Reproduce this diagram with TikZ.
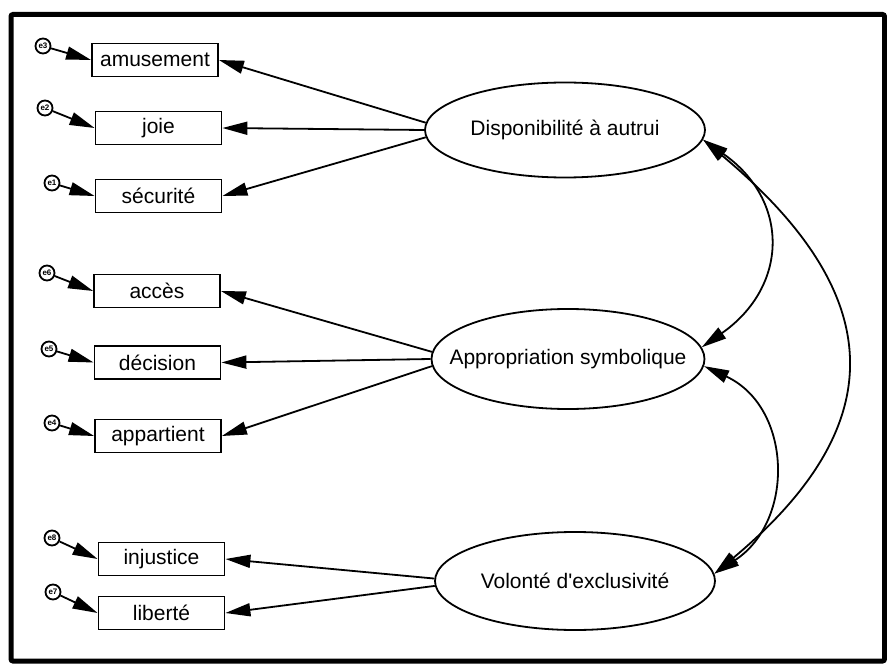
\documentclass[tikz,border=0pt]{standalone}
\usepackage{fontspec}
\setmainfont{Liberation Sans}
\usetikzlibrary{shapes.geometric,arrows.meta}
\tikzstyle{obs} = [rectangle, draw=black, line width=1.8pt, minimum width=126pt, minimum height=33pt, inner sep=0pt, font=\fontsize{21}{24}\selectfont]
\tikzstyle{lat} = [ellipse, draw=black, line width=1.8pt, inner sep=0pt, font=\fontsize{21}{24}\selectfont]
\tikzstyle{err} = [circle, draw=black, line width=1.8pt, minimum size=15pt, inner sep=0pt, font=\fontsize{8}{8}\selectfont\bfseries]
\tikzstyle{path} = [line width=1.8pt, ->]

\begin{document}
\begin{tikzpicture}[x=1pt,y=-1pt]
    \tikzset{>={Triangle[length=25pt,width=13pt]}}
    \useasboundingbox (0,0) rectangle (887,666);
    \draw[line width=5pt, rounded corners=2pt] (11,14.5) rectangle (884.5,661);

    % latent variables
    \node[lat, minimum width=280pt, minimum height=95pt] (disp) at (565,130) {\makebox[0pt]{Disponibilité à autrui}};
    \node[lat, minimum width=273pt, minimum height=100pt] (appr) at (568,359) {\makebox[0pt]{Appropriation symbolique}};
    \node[lat, minimum width=280pt, minimum height=98pt] (volo) at (575,581) {\makebox[0pt]{Volonté d\textquotesingle exclusivité}};

    % observed variables
    \node[obs] (amus) at (155,60) {amusement};
    \node[obs] (joie) at (158.5,128) {joie};
    \node[obs] (secu) at (158.5,196) {sécurité};
    \node[obs] (acce) at (157,291) {accès};
    \node[obs] (deci) at (157.5,362.5) {décision};
    \node[obs] (appa) at (158,436) {appartient};
    \node[obs] (inju) at (161.5,559) {injustice};
    \node[obs] (libe) at (161.5,613) {liberté};

    % errors
    \node[err] (e3) at (43,46) {e3};
    \node[err] (e2) at (45,108) {e2};
    \node[err] (e1) at (52,183) {e1};
    \node[err] (e6) at (47,273) {e6};
    \node[err] (e5) at (49,349) {e5};
    \node[err] (e4) at (52,423) {e4};
    \node[err] (e8) at (52,538) {e8};
    \node[err] (e7) at (53,592) {e7};

    \draw[path] (e3) -- (amus.west);
    \draw[path] (e2) -- (joie.west);
    \draw[path] (e1) -- (secu.west);
    \draw[path] (e6) -- (acce.west);
    \draw[path] (e5) -- (deci.west);
    \draw[path] (e4) -- (appa.west);
    \draw[path] (e8) -- (inju.west);
    \draw[path] (e7) -- (libe.west);

    % loadings
    \draw[path] (disp.177) -- (amus.east);
    \draw[path] (disp.west) -- (joie.east);
    \draw[path] (disp.183) -- (secu.east);
    \draw[path] (appr.177) -- (acce.east);
    \draw[path] (appr.west) -- (deci.east);
    \draw[path] (appr.183) -- (appa.east);
    \draw[path] (volo.179) -- (inju.east);
    \draw[path] (volo.182) -- (libe.east);

    % covariances
    \draw[path,<->] (disp.-4) .. controls +(87,61) and +(87,-61) .. (appr.5);
    \draw[path,<->] (appr.-3) .. controls +(88,41) and +(81,-53) .. (volo.3);
    \draw[path,<->] (disp.-4) .. controls +(182,152) and +(182,-152) .. (volo.3);
\end{tikzpicture}
\end{document}
